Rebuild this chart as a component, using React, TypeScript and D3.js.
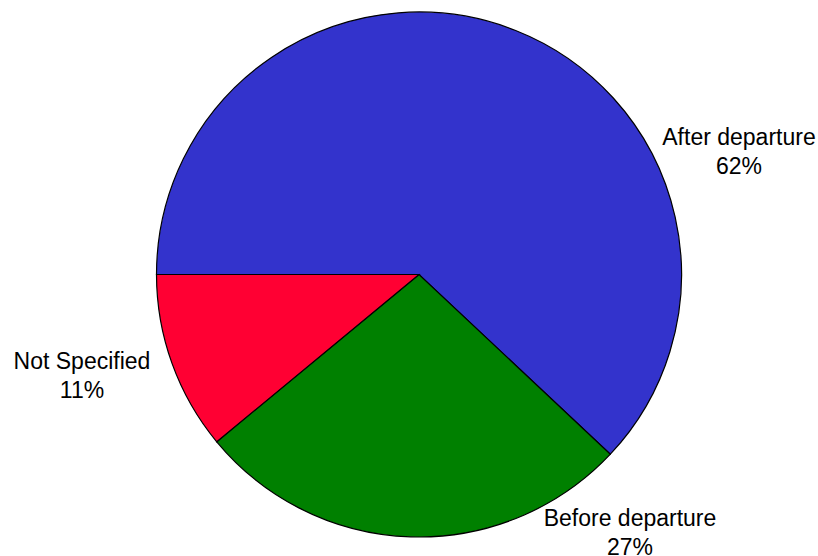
import React from "react";
import * as d3 from "d3";

const categories = ["After departure", "Before departure", "Not Specified"];
const values = [62, 27, 11];
const colors = ["#3333CC", "#008000", "#FF0033"];
const labelPositions = [
  [739, 145],
  [630, 526],
  [82, 369],
];

export default function App() {
  const width = 818;
  const height = 556;
  const cx = 419;
  const cy = 274.5;
  const r = 262.5;
  const pie = d3
    .pie<number>()
    .sort(null)
    .startAngle(-Math.PI / 2)
    .endAngle((3 * Math.PI) / 2)(values);
  const arc = d3.arc<d3.PieArcDatum<number>>().innerRadius(0).outerRadius(r);
  const total = d3.sum(values);
  return (
    <svg
      width={width}
      height={height}
      style={{ position: "absolute", left: 0, top: 0 }}
      fontFamily="'Liberation Sans', Arial, sans-serif"
    >
      <rect width={width} height={height} fill="#fff" />
      <g transform={`translate(${cx},${cy})`}>
        {pie.map((d, i) => (
          <path key={i} d={arc(d) || ""} fill={colors[i]} stroke="#000" strokeWidth={1.2} />
        ))}
      </g>
      {categories.map((c, i) => (
        <text key={c} x={labelPositions[i][0]} y={labelPositions[i][1]} textAnchor="middle" fontSize={23} fill="#000">
          <tspan x={labelPositions[i][0]}>{c}</tspan>
          <tspan x={labelPositions[i][0]} dy="28.5">{`${Math.round((values[i] / total) * 100)}%`}</tspan>
        </text>
      ))}
    </svg>
  );
}
